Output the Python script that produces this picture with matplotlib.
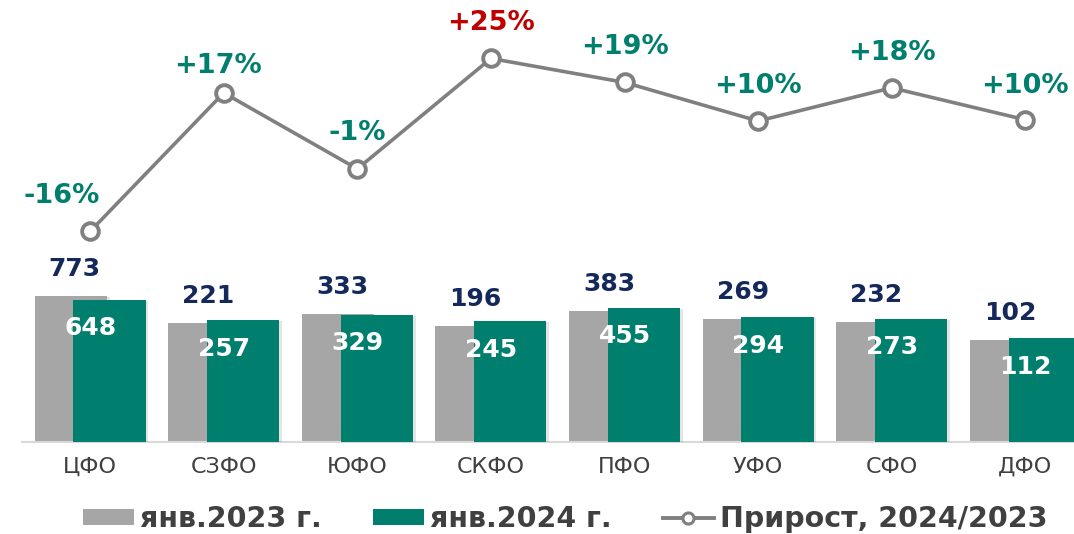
import matplotlib
matplotlib.use("Agg")
import matplotlib.pyplot as plt
import matplotlib.patheffects as pe
from matplotlib.lines import Line2D
from matplotlib.patches import Patch

# данные
regions = ["ЦФО", "СЗФО", "ЮФО", "СКФО", "ПФО", "УФО", "СФО", "ДФО"]
jan_2023 = [773, 221, 333, 196, 383, 269, 232, 102]
jan_2024 = [648, 257, 329, 245, 455, 294, 273, 112]
growth = [-16.2, 16.8, -1.3, 25.0, 19.3, 10.1, 18.0, 10.4]
growth_labels = ["-16%", "+17%", "-1%", "+25%", "+19%", "+10%", "+18%", "+10%"]

GRAY = "#A6A6A6"
TEAL = "#007F6F"
NAVY = "#14285A"
LINE = "#808080"
TXT = "#404040"

plt.rcParams['font.family'] = ['DejaVu Sans']

fig = plt.figure(figsize=(10.74, 5.34), dpi=100)
# оси в пикселях: от x=22 до правого края, низ на y=441.5
ax = fig.add_axes([22 / 1074, (534 - 441.5) / 534, 1052 / 1074, 441.5 / 534])
ax.set_xlim(-0.51, -0.51 + 1052 / 133.6)
ax.set_yscale('log')
ax.set_ylim(1, 10 ** (441.5 / 50.4))

x = list(range(len(regions)))
bw = 0.54
off = 0.145
shadow = [pe.SimplePatchShadow(offset=(2, -1), shadow_rgbFace='black', alpha=0.1), pe.Normal()]

bars_23 = ax.bar([i - off for i in x], jan_2023, width=bw, color=GRAY, zorder=2)
bars_24 = ax.bar([i + off for i in x], jan_2024, width=bw, color=TEAL, zorder=3)
for b in list(bars_23) + list(bars_24):
    b.set_path_effects(shadow)

for i, v in enumerate(jan_2023):
    ax.annotate(str(v), (i - off, v), xytext=(3, 19.5), textcoords='offset points',
                ha='center', va='center', fontsize=18, fontweight='bold', color=NAVY, zorder=5)
for i, v in enumerate(jan_2024):
    ax.annotate(str(v), (i, v), xytext=(0, -20.5), textcoords='offset points',
                ha='center', va='center', fontsize=18, fontweight='bold', color='white', zorder=5)

for s in ['top', 'right', 'left']:
    ax.spines[s].set_visible(False)
ax.spines['bottom'].set_color('#D9D9D9')
ax.spines['bottom'].set_linewidth(1.5)
ax.set_yticks([])
ax.yaxis.set_minor_locator(matplotlib.ticker.NullLocator())
ax.set_xticks(x)
ax.set_xticklabels(regions, fontsize=16, color=TXT)
ax.tick_params(axis='x', length=0, pad=11)

# линия прироста
ax2 = ax.twinx()
ax2.set_ylim(-66.26, 38.93)
ax2.axis('off')
ax2.plot(x, growth, color=LINE, lw=2.6, marker='o', ms=12, mfc='white', mec=LINE, mew=2.8,
         zorder=4, clip_on=False)

label_off = [(-28, 35), (-6, 27), (0, 36), (0, 35), (0, 35), (0, 35), (0, 35), (0, 34)]
for i, (v, t) in enumerate(zip(growth, growth_labels)):
    dx, dy = label_off[i]
    ax2.annotate(t, (i, v), xytext=(dx * 0.72, dy * 0.72), textcoords='offset points',
                 ha='center', va='center', fontsize=19.5, fontweight='bold',
                 color='#C00000' if v >= 25 else TEAL, annotation_clip=False)

handles = [
    Patch(facecolor=GRAY, edgecolor='none'),
    Patch(facecolor=TEAL, edgecolor='none'),
    Line2D([], [], color=LINE, lw=2.8, marker='o', ms=8, mfc='white', mec=LINE, mew=2.2),
]
fig.legend(handles, ["янв.2023 г.", "янв.2024 г.", "Прирост, 2024/2023"],
           loc='center', bbox_to_anchor=(565 / 1074, 1 - 519 / 534), ncol=3, frameon=False,
           prop={'weight': 'bold', 'size': 20.5}, labelcolor=TXT,
           handlelength=1.8, handleheight=0.53, handletextpad=0.2, columnspacing=1.8)

fig.savefig("out.png", dpi=100)
